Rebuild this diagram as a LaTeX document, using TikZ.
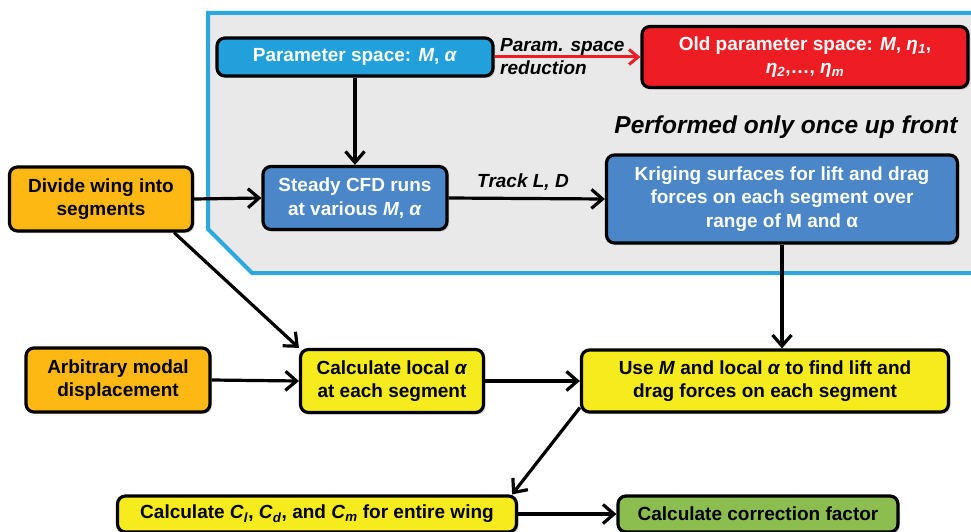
\documentclass[tikz,border=0pt]{standalone}
\usepackage{fontspec}
\setmainfont{Liberation Sans}
\usetikzlibrary{arrows.meta,shadows,calc}

\definecolor{panelfill}{HTML}{E9E9E9}
\definecolor{panelline}{HTML}{2EA7DF}
\definecolor{skyblue}{HTML}{22A0DC}
\definecolor{midblue}{HTML}{4A86C8}
\definecolor{alertred}{HTML}{EE1D23}
\definecolor{amber}{HTML}{FDB813}
\definecolor{lemon}{HTML}{F6EB1C}
\definecolor{leaf}{HTML}{8CBD4F}

\begin{document}
\begin{tikzpicture}[x=1pt,y=-1pt,
  box/.style={draw=black, line width=3.2pt, rounded corners=8pt, align=center,
    inner sep=0pt, font=\fontsize{19}{23.5}\selectfont\bfseries,
    drop shadow={opacity=0.3, shadow xshift=2pt, shadow yshift=-2pt}},
  bluebox/.style={box, fill=midblue, text=white},
  skybox/.style={box, fill=skyblue, text=white},
  redbox/.style={box, fill=alertred, text=white},
  orangebox/.style={box, fill=amber, text=black},
  yellowbox/.style={box, fill=lemon, text=black},
  greenbox/.style={box, fill=leaf, text=black},
  flow/.style={draw=black, line width=3.2pt, -{Straight Barb[length=11pt,width=19pt]}},
  redflow/.style={draw=alertred, line width=3pt, -{Straight Barb[length=9pt,width=15pt]}},
  tag/.style={font=\fontsize{19}{23}\selectfont\bfseries\itshape, inner sep=0pt, align=left}
]
\useasboundingbox (0,0) rectangle (971,532);

% one-time precomputation region
\draw[line width=4pt, draw=panelline, fill=panelfill]
  (208,13) -- (995,13) -- (995,273) -- (252,273) -- (208,229) -- cycle;

% nodes
\node[skybox, minimum width=276, minimum height=38] (param) at (355,57)
  {Parameter space: \textit{M}, \textit{α}};
\node[redbox, minimum width=326, minimum height=61] (old) at (805,57)
  {Old parameter space: \textit{M}, \textit{η}\textsubscript{\textit{1}},\\
   \textit{η}\textsubscript{\textit{2}},…, \textit{η}\textsubscript{\textit{m}}};
\node[font=\fontsize{24.5}{28}\selectfont\bfseries\itshape, inner sep=0pt] (once) at (786,127)
  {Performed only once up front};
\node[bluebox, minimum width=184, minimum height=63] (cfd) at (355,198)
  {Steady CFD runs\\at various \textit{M}, \textit{α}};
\node[bluebox, minimum width=351, minimum height=88] (krig) at (782,199)
  {Kriging surfaces for lift and drag\\forces on each segment over\\range of M and α};
\node[orangebox, minimum width=183, minimum height=64] (divide) at (101,199)
  {Divide wing into\\segments};
\node[orangebox, minimum width=184, minimum height=64] (modal) at (118,380)
  {Arbitrary modal\\displacement};
\node[yellowbox, minimum width=183, minimum height=63] (local) at (392,381)
  {Calculate local \textit{α}\\at each segment};
\node[yellowbox, minimum width=367, minimum height=62] (use) at (765,381)
  {Use \textit{M} and local \textit{α} to find lift and\\drag forces on each segment};
\node[yellowbox, minimum width=399, minimum height=36] (coef) at (317,514)
  {Calculate \textit{C}\textsubscript{\textit{l}}, \textit{C}\textsubscript{\textit{d}}, and \textit{C}\textsubscript{\textit{m}} for entire wing};
\node[greenbox, minimum width=280, minimum height=36] (corr) at (758,514)
  {Calculate correction factor};

% connectors
\draw[redflow] (param.east) -- (old.west);
\node[tag, anchor=west] (reduce) at (500,57) {Param. space\\reduction};
\draw[flow] (param.south) -- (cfd.north);
\draw[flow] (divide.east) -- (cfd.west);
\draw[flow] (cfd.east) -- (krig.west);
\node[tag, anchor=center] (track) at (523,182) {Track \textit{L}, \textit{D}};
\draw[flow] ([xshift=-20pt]divide.south east) -- (local.north west);
\draw[flow] (modal.east) -- (local.west);
\draw[flow] (local.east) -- (use.west);
\draw[flow] (krig.south) -- (krig.south |- use.north);
\draw[flow] ([yshift=6pt]use.south west) -- ([xshift=-6pt]coef.north east);
\draw[flow] (coef.east) -- (corr.west);
\end{tikzpicture}
\end{document}
